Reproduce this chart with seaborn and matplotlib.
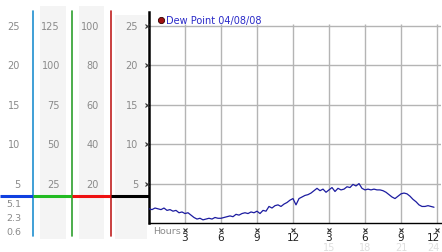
import numpy as np
import pandas as pd
import matplotlib
matplotlib.use("Agg")
import matplotlib.pyplot as plt
import seaborn as sns

# ---------------- data ----------------
hours = [i * 0.25 for i in range(96)]
dew_point = [1.8, 1.7, 1.9, 1.8, 1.7, 1.9, 1.6, 1.7, 1.5, 1.6, 1.3, 1.4,
             1.2, 1.3, 1.0, 0.7, 0.5, 0.6, 0.4, 0.5, 0.6, 0.5, 0.7, 0.6,
             0.6, 0.7, 0.8, 0.9, 0.8, 1.1, 1.0, 1.2, 1.3, 1.2, 1.4, 1.3,
             1.5, 1.2, 1.6, 1.5, 2.1, 1.9, 2.2, 2.3, 2.1, 2.4, 2.6, 2.9,
             3.1, 2.3, 3.1, 3.3, 3.5, 3.6, 3.8, 4.1, 4.4, 4.1, 4.3, 3.9,
             4.2, 4.5, 4.0, 4.4, 4.2, 4.3, 4.6, 4.5, 4.9, 4.7, 5.0, 4.4,
             4.2, 4.3, 4.2, 4.3, 4.2, 4.2, 4.1, 3.9, 3.6, 3.3, 3.1, 3.4,
             3.7, 3.8, 3.7, 3.4, 3.0, 2.7, 2.3, 2.1, 2.1, 2.2, 2.1, 2.0]
series_label = "Dew Point 04/08/08"

y_ticks = [5, 10, 15, 20, 25]
scale1 = ["5", "10", "15", "20", "25"]
scale2 = ["25", "50", "75", "100", "125"]
scale3 = ["20", "40", "60", "80", "100"]
scale4 = ["5", "10", "15", "20", "25"]
low_labels = ["5.1", "2.3", "0.6"]
low_values = [2.5, 0.72, -1.05]
x_ticks = [3, 6, 9, 12, 15, 18, 21, 24]
x_tick_labels = ["3", "6", "9", "12", "3", "6", "9", "12"]
x_faint_ticks = [15, 18, 21, 24]
x_faint_labels = ["15", "18", "21", "24"]

df = pd.DataFrame({"Hours": hours, "Dew": dew_point})

sns.set_theme(style="white")
plt.rcParams['font.family'] = ['DejaVu Sans']

W, H = 442, 253
PPU = 197 / 25.0  # pixels per unit
fig = plt.figure(figsize=(W / 100, H / 100), dpi=100)

# ---------------- left panel ----------------
axl = fig.add_axes([0, 0, 149 / W, 1])
axl.set_xlim(0, 149)
axl.set_ylim((224 - 253) / PPU, 224 / PPU)
axl.axis("off")

def pv(py):
    return (224 - py) / PPU

band_col = "#f4f4f4"
for x0, x1, ytop in [(40, 66, 7), (79, 104, 7), (115, 147, 16)]:
    axl.fill_between([x0, x1], pv(240), pv(ytop), color=band_col, lw=0, zorder=0)

for xv, col in [(33, "#1f8fd0"), (72, "#2ea02e"), (111, "#c02020")]:
    axl.plot([xv, xv], [pv(237), pv(12)], color=col, lw=1.2, zorder=2)

hy = pv(197)
for x0, x1, col in [(0, 33, "#1040e0"), (33, 72, "#22bb22"), (72, 111, "#ee1111"), (111, 149, "black")]:
    axl.plot([x0, x1], [hy, hy], color=col, lw=2.2, solid_capstyle="butt", zorder=3)

tcol = "#8a8a8a"
for labels, xr in [(scale1, 20), (scale2, 60), (scale3, 99), (scale4, 138)]:
    for v, lab in zip(y_ticks, labels):
        axl.text(xr, v, lab, ha="right", va="center", fontsize=7, color=tcol)
for v, lab in zip(low_values, low_labels):
    axl.text(21, v, lab, ha="right", va="center", fontsize=6.8, color=tcol)

# ---------------- main chart ----------------
ax = fig.add_axes([149 / W, 29 / H, 292 / W, 211 / H])
ax.set_xlim(0, 292 / 12)
ax.set_ylim(0, 211 / PPU)
ax.patch.set_alpha(0)

grid_col = "#b4b4b4"
for v in y_ticks:
    ax.axhline(v, color=grid_col, lw=1, zorder=0)
ax.vlines(x_ticks, 0, 25.3, color=grid_col, lw=1, zorder=0)

sns.lineplot(data=df, x="Hours", y="Dew", ax=ax, color="#1c1ca0", lw=0.9, zorder=3)

for s in ["top", "right"]:
    ax.spines[s].set_visible(False)
ax.spines["left"].set_color("black")
ax.spines["left"].set_linewidth(1.8)
ax.spines["bottom"].set_color("black")
ax.spines["bottom"].set_linewidth(1.0)
ax.set_xticks([])
ax.set_yticks([])
ax.set_xlabel("")
ax.set_ylabel("")

# small tick marks
ax.plot([-0.2] * len(y_ticks), y_ticks, ls="none", marker="x", ms=2.2, mew=0.8,
        color="#333333", clip_on=False, zorder=5)
ax.plot(x_ticks, [pv(231)] * len(x_ticks), ls="none", marker="x", ms=2.2, mew=0.8,
        color="#333333", clip_on=False, zorder=5)

for i, (xv, lab) in enumerate(zip(x_ticks, x_tick_labels)):
    if i == len(x_ticks) - 1:
        ax.text(xv + 0.25, pv(238.5), lab, ha="right", va="center", fontsize=7.6, color="#222222")
    else:
        ax.text(xv, pv(238.5), lab, ha="center", va="center", fontsize=7.6, color="#222222")
for i, (xv, lab) in enumerate(zip(x_faint_ticks, x_faint_labels)):
    if i == len(x_faint_ticks) - 1:
        ax.text(xv + 0.25, pv(248), lab, ha="right", va="center", fontsize=7, color="#dedede")
    else:
        ax.text(xv, pv(248), lab, ha="center", va="center", fontsize=7, color="#dedede")
ax.text(0.35, pv(231.5), "Hours", ha="left", va="center", fontsize=6.8, color=tcol)

# legend
ax.plot([1.0], [pv(21)], ls="none", marker="o", ms=4.5, mfc="#a01010", mec="#300000",
        mew=0.6, clip_on=False, zorder=6)
ax.text(1.4, pv(21), series_label, ha="left", va="center", fontsize=7, color="#2a2ac8")

fig.savefig("out.png", dpi=100)
